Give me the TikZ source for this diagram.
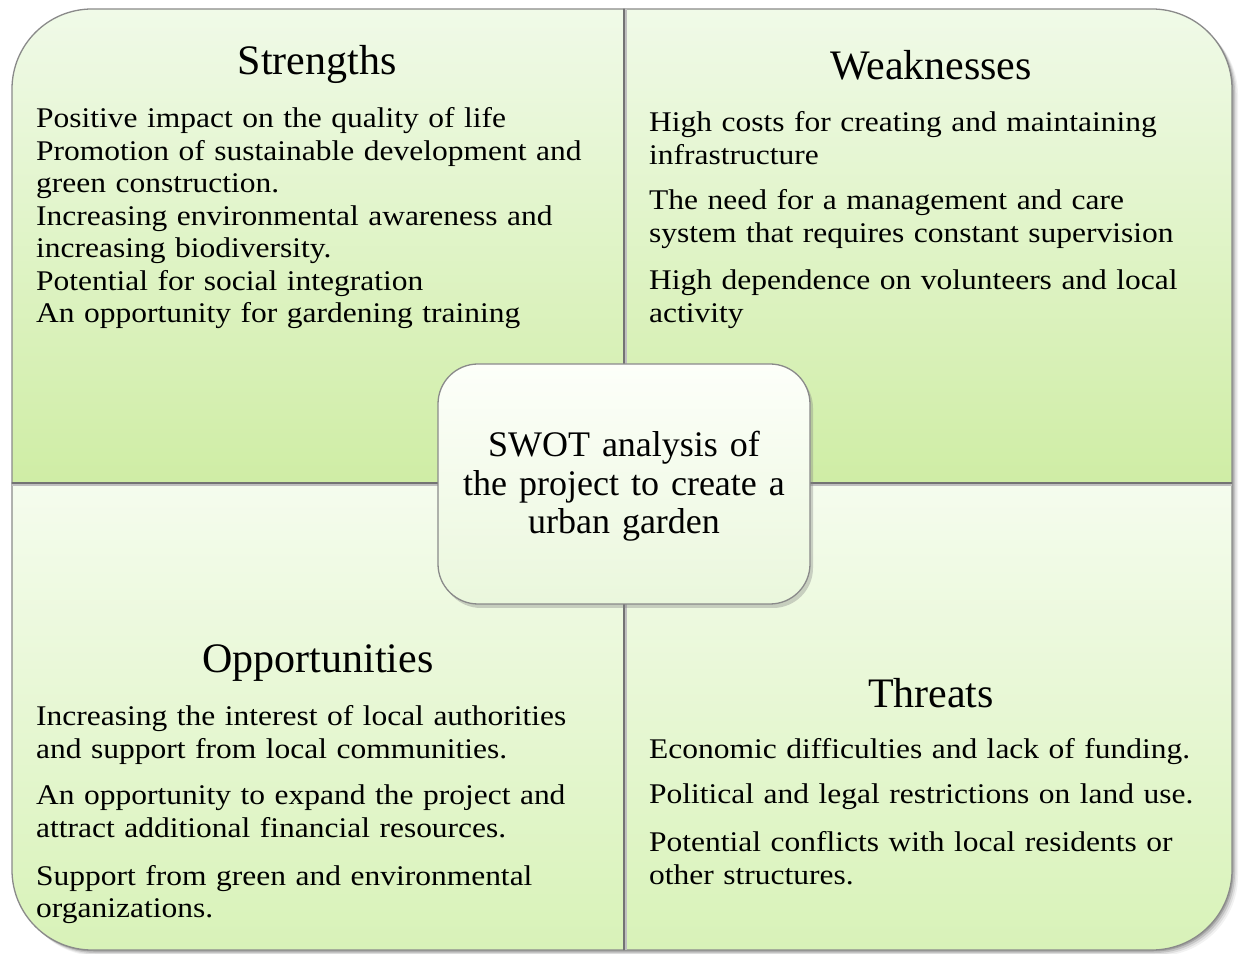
\documentclass[tikz,border=0pt]{standalone}
\usepackage{fontspec}
\setmainfont{Liberation Serif}
\newfontfamily\widebody[FakeStretch=1.105]{Liberation Serif}
\usetikzlibrary{shadows}
\definecolor{edge}{HTML}{8A8A8A}
\definecolor{upTop}{HTML}{F0FAE8}
\definecolor{upBot}{HTML}{CFEDA5}
\definecolor{lowTop}{HTML}{F5FCEE}
\definecolor{lowBot}{HTML}{D8F2B8}
\definecolor{midTop}{HTML}{FDFFFA}
\definecolor{midBot}{HTML}{EAF7DC}
\tikzset{
  quadtitle/.style={inner sep=0pt, anchor=base, font=\fontsize{42}{46}\selectfont},
  quadtext/.style={inner sep=0pt, anchor=base west, text width=590pt, align=left,
                   font=\widebody\fontsize{28.5}{32.5}\selectfont},
  quadedge/.style={draw=edge, line width=1.3pt},
}
\begin{document}
\begin{tikzpicture}[x=1pt,y=1pt]
\useasboundingbox (0,0) rectangle (1239,953);
\fill[white] (0,0) rectangle (1239,953);

% soft shadow under the whole four-panel block
\foreach \d/\o in {6/0.05,4.5/0.08,3/0.12,1.5/0.16}{
  \fill[black,opacity=\o] (12+\d,470-\d) -- (12+\d,864-\d) arc[start angle=180,end angle=90,radius=80]
     -- (1152+\d,944-\d) arc[start angle=90,end angle=0,radius=80]
     -- (1232+\d,83-\d) arc[start angle=0,end angle=-90,radius=80]
     -- (92+\d,3-\d) arc[start angle=270,end angle=180,radius=80] -- cycle;
}

% the four panels
\shade[top color=upTop,bottom color=upBot,quadedge]
  (12,470) -- (12,864) arc[start angle=180,end angle=90,radius=80] -- (624,944) -- (624,470) -- cycle;
\shade[top color=upTop,bottom color=upBot,quadedge]
  (624,470) -- (624,944) -- (1152,944) arc[start angle=90,end angle=0,radius=80] -- (1232,470) -- cycle;
\shade[top color=lowTop,bottom color=lowBot,quadedge]
  (12,470) -- (624,470) -- (624,3) -- (92,3) arc[start angle=270,end angle=180,radius=80] -- cycle;
\shade[top color=lowTop,bottom color=lowBot,quadedge]
  (624,470) -- (1232,470) -- (1232,83) arc[start angle=0,end angle=-90,radius=80] -- (624,3) -- cycle;

% dividing lines
\coordinate (vtop) at (624,944);
\coordinate (vbot) at (624,3);
\coordinate (hleft) at (12,470);
\coordinate (hright) at (1232,470);
\draw[black!25,line width=2pt] ([xshift=2pt]vtop) -- ([xshift=2pt]vbot);
\draw[black!25,line width=2pt] ([yshift=-2pt]hleft) -- ([yshift=-2pt]hright);
\draw[black!55,line width=1.3pt] (vtop) -- (vbot);
\draw[black!55,line width=1.3pt] (hleft) -- (hright);

% central box
\node[draw=edge, line width=1.3pt, rounded corners=40pt, minimum width=372pt, minimum height=240pt,
      top color=midTop, bottom color=midBot,
      drop shadow={shadow xshift=3pt, shadow yshift=-4pt, opacity=0.35}] (core) at (624,469) {};
\node[inner sep=0pt, anchor=base, text width=360pt, align=center,
      font=\fontsize{36}{38.5}\selectfont] (coretext) at (624,496)
  {SWOT analysis of\\ the project to create a\\ urban garden};

% Strengths
\node[quadtitle] (stitle) at (317,878) {Strengths};
\node[quadtext] (s1) at (36,825) {Positive impact on the quality of life\\
Promotion of sustainable development and\\
green construction.\\
Increasing environmental awareness and\\
increasing biodiversity.\\
Potential for social integration\\
An opportunity for gardening training};

% Weaknesses
\node[quadtitle] (wtitle) at (931,873) {Weaknesses};
\node[quadtext] (w1) at (649,821) {High costs for creating and maintaining\\ infrastructure};
\node[quadtext] (w2) at (649,743) {The need for a management and care\\ system that requires constant supervision};
\node[quadtext] (w3) at (649,663) {High dependence on volunteers and local\\ activity};

% Opportunities
\node[quadtitle] (otitle) at (318,280) {Opportunities};
\node[quadtext] (o1) at (36,227) {Increasing the interest of local authorities\\ and support from local communities.};
\node[quadtext] (o2) at (36,148) {An opportunity to expand the project and\\ attract additional financial resources.};
\node[quadtext] (o3) at (36,68) {Support from green and environmental\\ organizations.};

% Threats
\node[quadtitle] (ttitle) at (931,245) {Threats};
\node[quadtext] (t1) at (649,194) {Economic difficulties and lack of funding.};
\node[quadtext] (t2) at (649,149) {Political and legal restrictions on land use.};
\node[quadtext] (t3) at (649,101) {Potential conflicts with local residents or\\ other structures.};
\end{tikzpicture}
\end{document}
